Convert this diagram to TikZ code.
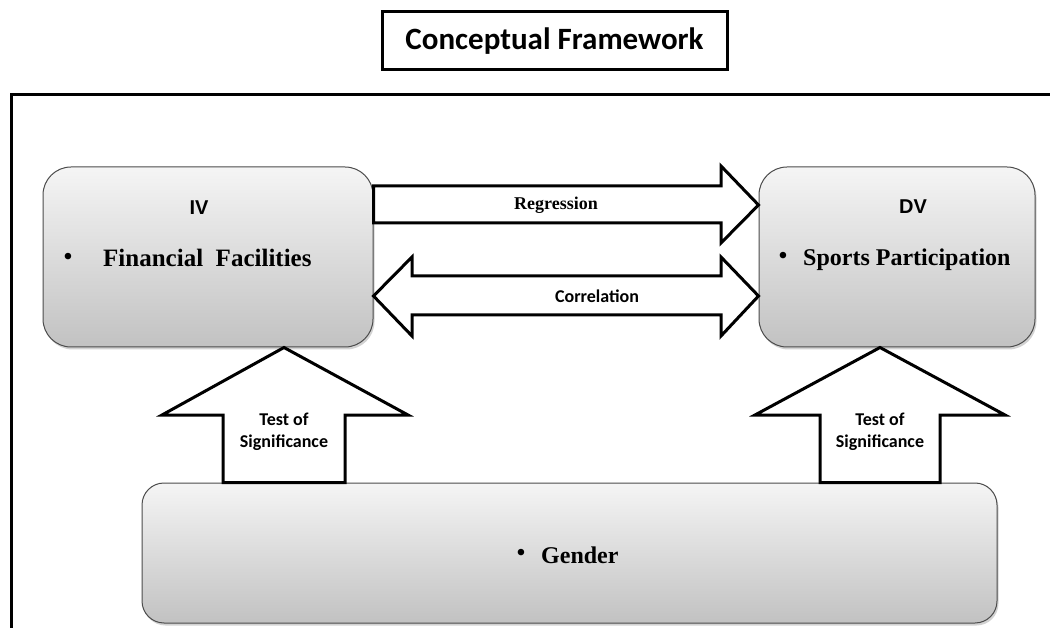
\documentclass[tikz,border=0pt]{standalone}
\usepackage{fontspec}
\setmainfont{Liberation Serif}
\newfontfamily\calib{Carlito}
\newfontfamily\arialf{Liberation Sans}
\usetikzlibrary{shadows,calc}
\begin{document}
\begin{tikzpicture}[x=1pt,y=-1pt,
  varbox/.style={draw=black!70, line width=1pt, rounded corners=28pt,
    top color=gray!8, bottom color=gray!48, inner sep=0pt,
    drop shadow={shadow xshift=1.5pt, shadow yshift=-2.5pt, opacity=0.35}},
  blockarrow/.style={draw=black, line width=3pt, fill=white, line join=miter},
  serifbig/.style={font=\bfseries\fontsize{25}{30}\selectfont, inner sep=0pt},
  sanslbl/.style={font=\arialf\bfseries\fontsize{20}{24}\selectfont, inner sep=0pt},
  caliblbl/.style={font=\calib\bfseries\fontsize{18}{22}\selectfont, inner sep=0pt, align=center},
  bulletnode/.style={font=\bfseries\fontsize{24}{28}\selectfont, inner sep=0pt}
]
\useasboundingbox (0,0) rectangle (1050,628);
\fill[white] (0,0) rectangle (1050,628);

% title
\node[draw, line width=3pt, minimum width=345pt, minimum height=58pt, inner sep=0pt,
      font=\calib\bfseries\fontsize{31}{37}\selectfont] (title) at (554.5,41) {Conceptual Framework\hspace{21pt}};

% outer frame
\draw[line width=3pt] (1050,95) -- (11,95) -- (11,628);

% boxes
\node[varbox, minimum width=330pt, minimum height=180pt] (iv) at (208,257) {};
\node[varbox, minimum width=276pt, minimum height=180pt] (dv) at (897,257) {};
\node[varbox, minimum width=855pt, minimum height=140pt, rounded corners=22pt] (gender) at (569.5,553) {};

% box texts
\node[sanslbl] (ivh) at (199,208) {IV};
\node[bulletnode] (ivb) at (68,259) {\textbullet};
\node[serifbig, anchor=base west] (ivt) at (103,267) {Financial\ \ Facilities};

\node[sanslbl] (dvh) at (913,207) {DV};
\node[bulletnode] (dvb) at (783,258) {\textbullet};
\node[serifbig, font=\bfseries\fontsize{24}{28}\selectfont, anchor=base west] (dvt) at (803,266) {Sports Participation};

\node[bulletnode] (gb) at (521,555) {\textbullet};
\node[serifbig, font=\bfseries\fontsize{24}{28}\selectfont, anchor=base west] (gt) at (541,563) {Gender};

% regression arrow
\draw[blockarrow] (iv.east |- 0,186) -- (721,186) -- (721,166) -- (dv.west |- 0,205)
   -- (721,243) -- (721,223) -- (iv.east |- 0,223) -- cycle;
\node[font=\bfseries\fontsize{18}{22}\selectfont, inner sep=0pt] (reg) at (556,205) {Regression};

% correlation arrow
\draw[blockarrow] (iv.east |- 0,296) -- (412,257) -- (412,276) -- (721,276) -- (721,257)
   -- (dv.west |- 0,296) -- (721,336) -- (721,315) -- (412,315) -- (412,336) -- cycle;
\node[caliblbl] (cor) at (597,296) {Correlation};

% test of significance arrows
\draw[blockarrow] (284,0 |- iv.south) -- (408,415) -- (345,415) -- (345,0 |- gender.north)
   -- (223,0 |- gender.north) -- (223,415) -- (162,415) -- cycle;
\node[caliblbl] (tos1) at (284,432) {Test of\\Significance};

\draw[blockarrow] (880,0 |- dv.south) -- (1005,415) -- (940,415) -- (940,0 |- gender.north)
   -- (820,0 |- gender.north) -- (820,415) -- (755,415) -- cycle;
\node[caliblbl] (tos2) at (880,432) {Test of\\Significance};
\end{tikzpicture}
\end{document}
